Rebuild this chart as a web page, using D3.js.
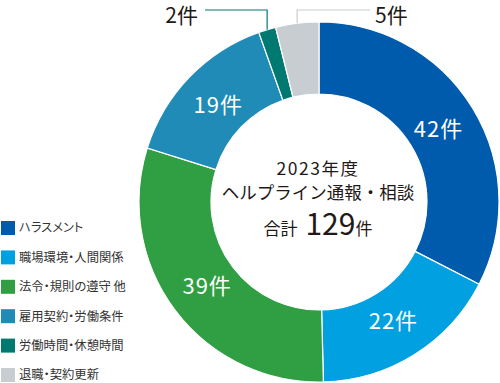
<!DOCTYPE html>
<html lang="ja">
<head>
<meta charset="UTF-8">
<title>ヘルプライン通報・相談</title>
<script src="https://cdn.jsdelivr.net/npm/d3@7/dist/d3.min.js"></script>
<style>
  * { margin: 0; padding: 0; }
  body { background: #fff; width: 500px; height: 383px; overflow: hidden; }
  svg { display: block; font-family: "Noto Sans CJK JP", "Noto Sans", sans-serif; }
  .palt { font-feature-settings: "palt"; }
</style>
</head>
<body>
<svg id="chart" width="500" height="383"></svg>
<script>
// data
const categories = ['ハラスメント', '職場環境・人間関係', '法令・規則の遵守 他', '雇用契約・労働条件', '労働時間・休憩時間', '退職・契約更新'];
const values = [42, 22, 39, 19, 2, 5];
const unit = '件';
const titleLines = ['2023年度', 'ヘルプライン通報・相談'];
const totalLabel = '合計';
const total = d3.sum(values);

const colors = ['#005bac', '#00a0e1', '#309e42', '#1f8bb6', '#007a70', '#c8cdd1'];
const textColor = '#231815';

const svg = d3.select('#chart');
const cx = 319, cy = 202, R = 180, r = 108;

const pie = d3.pie().sort(null).value(d => d.value);
const arcs = pie(values.map((v, i) => ({ value: v, i })));
const arc = d3.arc().innerRadius(r).outerRadius(R);
const labelArc = d3.arc().innerRadius(140).outerRadius(140);
const outerArc = d3.arc().innerRadius(R).outerRadius(R);

const g = svg.append('g').attr('transform', `translate(${cx},${cy})`);

g.selectAll('path.slice')
  .data(arcs).join('path')
  .attr('class', 'slice')
  .attr('d', arc)
  .attr('fill', d => colors[d.data.i])
  .attr('stroke', '#fff')
  .attr('stroke-width', 1.2);

// labels inside big slices
g.selectAll('text.val')
  .data(arcs.filter(d => d.data.value >= 10)).join('text')
  .attr('class', 'val')
  .attr('transform', d => `translate(${labelArc.centroid(d)})`)
  .attr('text-anchor', 'middle')
  .attr('dy', '0.36em')
  .attr('fill', '#fff')
  .attr('font-size', 22)
  .attr('letter-spacing', 1)
  .text(d => d.data.value + unit);

// small slices: leader lines to labels above the ring
const lineY = 10 - cy;
const small = arcs.filter(d => d.data.value < 10);
small.forEach(d => {
  const [px, py] = outerArc.centroid(d);
  const left = d.data.i === 4;
  const endX = left ? 205 - cx : 370 - cx;
  g.append('polyline')
    .attr('points', [[px, py], [px, lineY], [endX, lineY]].map(p => p.join(',')).join(' '))
    .attr('fill', 'none')
    .attr('stroke', left ? colors[4] : colors[5])
    .attr('stroke-width', 1.2);
  g.append('text')
    .attr('x', left ? endX - 7 : endX + 5)
    .attr('y', lineY + 5)
    .attr('dy', '0.36em')
    .attr('text-anchor', left ? 'end' : 'start')
    .attr('fill', textColor)
    .attr('font-size', 21)
    .text(d.data.value + unit);
});

// centre text
const center = svg.append('g').attr('fill', textColor).attr('text-anchor', 'middle');
center.append('text').attr('x', cx - 1).attr('y', 175).attr('font-size', 17.5)
  .attr('letter-spacing', 1.5).text(titleLines[0]);
center.append('text').attr('x', cx - 1).attr('y', 199).attr('font-size', 17.5).text(titleLines[1]);
const tot = center.append('text').attr('x', cx - 1).attr('y', 235);
tot.append('tspan').attr('font-size', 17).text(totalLabel + ' ');
tot.append('tspan').attr('font-size', 30).attr('dx', 4).text(total);
tot.append('tspan').attr('font-size', 17).text(unit);

// legend
const legend = svg.append('g').attr('class', 'palt').attr('transform', 'translate(1,221)');
const rowH = 29.4;
const item = legend.selectAll('g')
  .data(categories).join('g')
  .attr('transform', (d, i) => `translate(0,${i * rowH})`);
item.append('rect')
  .attr('width', 14).attr('height', 14)
  .attr('fill', (d, i) => colors[i]);
item.append('text')
  .attr('x', 18).attr('y', 7).attr('dy', '0.36em')
  .attr('font-size', 12.3)
  .attr('fill', '#333')
  .text(d => d);
</script>
</body>
</html>
